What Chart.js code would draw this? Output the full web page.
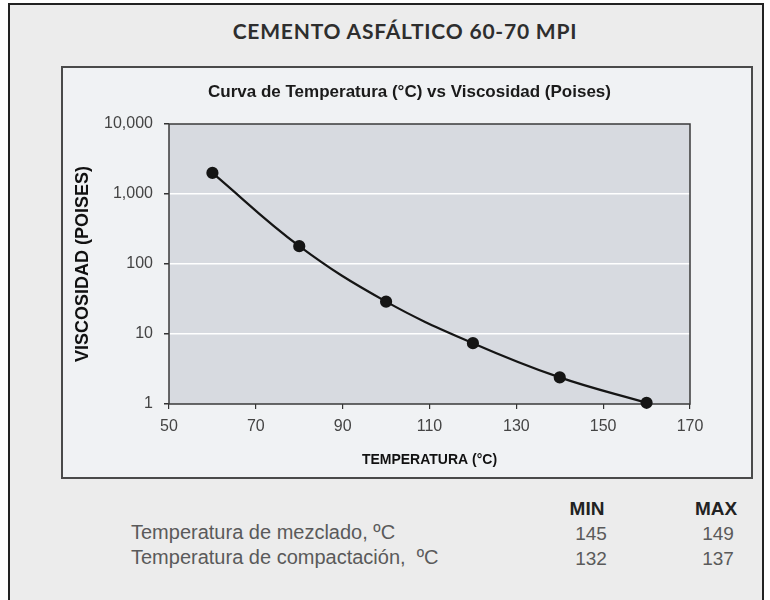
<!DOCTYPE html>
<html><head><meta charset="utf-8">
<script src="https://cdn.jsdelivr.net/npm/chart.js@4"></script>
<style>
html,body{margin:0;padding:0;width:770px;height:600px;overflow:hidden;background:#ffffff;}
#outer{position:absolute;left:8px;top:3px;width:756px;height:620px;border:2px solid #222;background:#ececec;box-sizing:border-box;}
#title{position:absolute;left:0;width:810px;top:18px;text-align:center;font:700 21px Lato, sans-serif;letter-spacing:0.8px;color:#2e2e2e;line-height:26px;}
#box{position:absolute;left:61px;top:66px;width:692px;height:413px;border:2px solid #4a4a4a;background:#f0f2f4;box-sizing:border-box;}
#wrap{position:absolute;left:62px;top:67px;width:690px;height:411px;}
.t{position:absolute;font-family:"Liberation Sans", Arial, sans-serif;white-space:nowrap;}
.lab{font-size:20px;line-height:20px;color:#5a5a5a;left:131px;}
.num{font-size:19px;line-height:19px;color:#5a5a5a;width:60px;text-align:center;}
.hd{font-size:19px;line-height:19px;font-weight:700;color:#222;width:60px;text-align:center;}
</style></head>
<body>
<div id="outer"></div>
<div id="title">CEMENTO ASFÁLTICO 60-70 MPI</div>
<div id="box"></div>
<div id="wrap"><canvas id="c" width="690" height="411"></canvas></div>
<div class="t hd" style="left:557px;top:499px">MIN</div>
<div class="t hd" style="left:686px;top:499px">MAX</div>
<div class="t lab" style="top:522px">Temperatura de mezclado, ºC</div>
<div class="t lab" style="top:547px">Temperatura de compactación,&nbsp; ºC</div>
<div class="t num" style="left:561px;top:524px">145</div>
<div class="t num" style="left:688px;top:524px">149</div>
<div class="t num" style="left:561px;top:549px">132</div>
<div class="t num" style="left:688px;top:549px">137</div>
<script>
const temperatures = [60, 80, 100, 120, 140, 160];
const viscosity = [2000, 180, 29, 7.4, 2.4, 1.04];
const xTicks = [50, 70, 90, 110, 130, 150, 170];
const yTicks = [1, 10, 100, 1000, 10000];

const points = temperatures.map((t, i) => ({x: t, y: viscosity[i]}));

const plotBg = {
  id: 'plotBg',
  beforeDraw(chart) {
    const {ctx, chartArea: a} = chart;
    ctx.save();
    ctx.fillStyle = '#d7dae0';
    ctx.fillRect(a.left, a.top, a.right - a.left, a.bottom - a.top);
    ctx.restore();
  },
  beforeDatasetsDraw(chart) {
    const {ctx, chartArea: a} = chart;
    ctx.save();
    ctx.strokeStyle = '#3a3a3a';
    ctx.lineWidth = 1.5;
    ctx.strokeRect(a.left, a.top, a.right - a.left, a.bottom - a.top);
    ctx.restore();
  }
};

new Chart(document.getElementById('c'), {
  type: 'line',
  data: {
    datasets: [{
      data: points,
      borderColor: '#151515',
      backgroundColor: '#151515',
      borderWidth: 2.2,
      pointRadius: 5,
      pointHoverRadius: 5,
      pointBackgroundColor: '#151515',
      pointBorderColor: '#151515',
      tension: 0.4,
      clip: false
    }]
  },
  options: {
    responsive: false,
    animation: false,
    layout: {padding: {left: 5, right: 0, top: 10, bottom: 8}},
    plugins: {
      legend: {display: false},
      tooltip: {enabled: false},
      title: {
        display: true,
        text: 'Curva de Temperatura (°C) vs Viscosidad (Poises)',
        color: '#1a1a1a',
        font: {family: 'Liberation Sans', size: 17, weight: 'bold'},
        padding: {top: 5, bottom: 21.6}
      }
    },
    scales: {
      x: {
        type: 'linear',
        min: 50, max: 170,
        afterBuildTicks: s => { s.ticks = xTicks.map(v => ({value: v})); },
        afterFit: s => { s.height = 66; },
        grid: {drawOnChartArea: false, drawTicks: true, tickLength: 5, tickColor: '#333', lineWidth: 1.2},
        border: {display: false},
        ticks: {color: '#444', font: {family: 'Liberation Sans', size: 16}, padding: 8, maxRotation: 0},
        title: {display: true, text: 'TEMPERATURA (°C)', color: '#111',
                font: {family: 'Liberation Sans', size: 14, weight: 'bold'}, padding: {top: 0, bottom: 1.6}}
      },
      y: {
        type: 'logarithmic',
        min: 1, max: 10000,
        afterBuildTicks: s => { s.ticks = yTicks.map(v => ({value: v})); },
        afterFit: s => { s.width = 102; },
        grid: {
          color: c => (c.tick && (c.tick.value === 1 || c.tick.value === 10000)) ? 'rgba(0,0,0,0)' : '#ffffff',
          lineWidth: 1.5, drawTicks: true, tickLength: 5, tickColor: '#333'
        },
        border: {display: false},
        ticks: {color: '#444', font: {family: 'Liberation Sans', size: 16}, padding: 11,
                callback: v => Number(v).toLocaleString('en-US')},
        title: {display: true, text: 'VISCOSIDAD (POISES)', color: '#111',
                font: {family: 'Liberation Sans', size: 18, weight: 'bold'}, padding: {top: 5.2, bottom: 0}}
      },
      y2: {
        type: 'linear', position: 'right', display: true,
        grid: {display: false}, border: {display: false}, ticks: {display: false},
        afterFit: s => { s.width = 62; }
      }
    }
  },
  plugins: [plotBg]
});
</script>
</body></html>
